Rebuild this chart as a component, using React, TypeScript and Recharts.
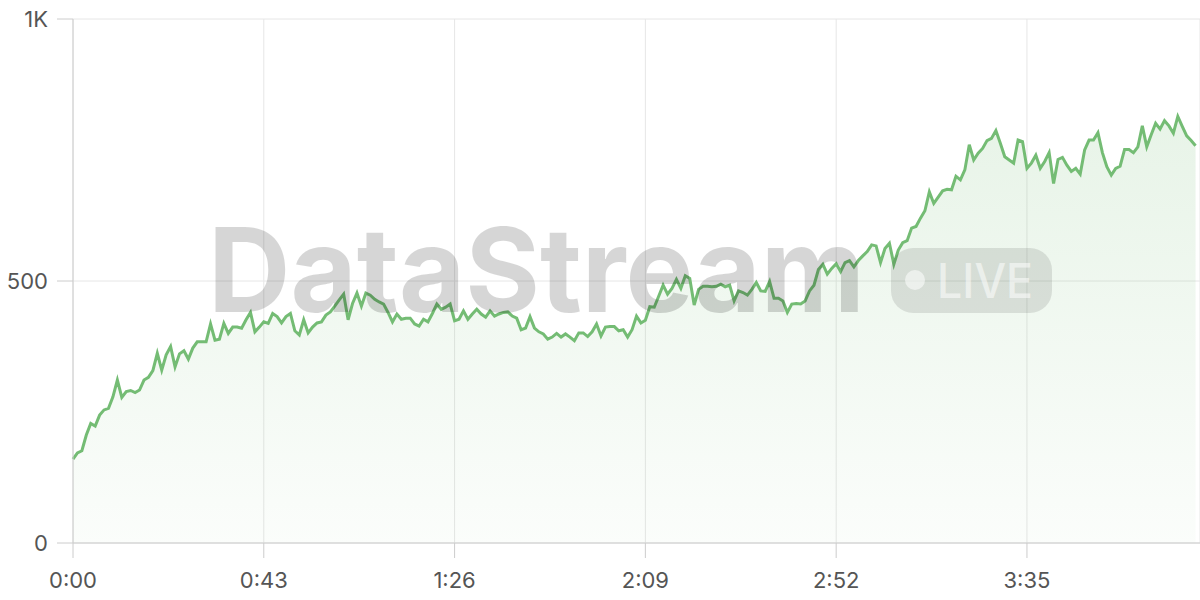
import { AreaChart, Area, XAxis, YAxis, CartesianGrid } from 'recharts'

// one sample per second
const stretch0 = [
  160, 172, 176, 206, 228, 223, 244, 254, 257, 279, 311, 278, 289, 291, 287, 292,
  311, 316, 329, 362, 330, 359, 375, 336, 361, 367, 351, 372, 384, 384, 384, 418,
  387, 389, 419, 400, 412, 412, 410, 426, 440, 403, 412, 422, 419,
]
const stretch1 = [
  438, 432, 420, 432, 438, 405, 397, 426, 401, 412, 420, 422, 435, 441, 452, 464,
  475, 426, 457, 477, 452, 477, 473, 465, 460, 456, 440, 422, 437, 427, 429, 429,
  418, 414, 427, 422, 438, 456, 446, 450, 456, 424, 427,
]
const stretch2 = [
  443, 427, 437, 446, 437, 431, 443, 433, 437, 440, 441, 433, 429, 407, 410, 432,
  410, 403, 399, 389, 393, 400, 393, 399, 393, 386, 401, 401, 394, 403, 418, 395,
  412, 413, 413, 405, 407, 393, 407, 433, 420, 425, 451,
]
const stretch3 = [
  450, 471, 492, 475, 486, 503, 486, 510, 505, 454, 484, 490, 490, 489, 490, 494,
  489, 492, 462, 481, 478, 473, 484, 497, 481, 480, 499, 467, 467, 462, 440, 456,
  457, 456, 462, 481, 492, 522, 532, 513, 524, 533, 518,
]
const stretch4 = [
  535, 539, 527, 539, 548, 556, 569, 567, 535, 562, 572, 532, 559, 573, 577, 601,
  604, 620, 634, 670, 648, 660, 672, 675, 674, 700, 693, 712, 760, 731, 744, 753,
  768, 772, 787, 763, 737, 731, 725, 769, 766, 715,
]
const stretch5 = [
  725, 740, 715, 728, 745, 686, 732, 736, 721, 709, 715, 704, 750, 769, 769, 783,
  745, 718, 702, 715, 719, 751, 751, 745, 756, 796, 756, 779, 801, 790, 806, 796,
  782, 814, 795, 777, 768, 758,
]

const values = [...stretch0, ...stretch1, ...stretch2, ...stretch3, ...stretch4, ...stretch5]
const seconds = values.map((_, i) => i)

const xTicks = [0, 43, 86, 129, 172, 215]
const yTicks = [0, 500, 1000]

const data = values.map((v, i) => ({ t: seconds[i], value: v }))

const GREEN = '#74bc74'
const FONT = 'Inter, "Noto Sans", sans-serif'

function formatClock(s: number): string {
  const m = Math.floor(s / 60)
  const sec = s % 60
  return `${m}:${String(sec).padStart(2, '0')}`
}

function formatCount(v: number): string {
  return v >= 1000 ? `${v / 1000}K` : `${v}`
}

export default function App() {
  return (
    <div style={{ position: 'absolute', left: 0, top: 0, width: 1200, height: 600, background: '#fff' }}>
      <AreaChart
        width={1200}
        height={600}
        data={data}
        margin={{ top: 19, right: 0, left: 0, bottom: 0 }}
      >
        <defs>
          <linearGradient id="liveFill" x1="0" y1="0" x2="0" y2="1">
            <stop offset="0%" stopColor={GREEN} stopOpacity={0.28} />
            <stop offset="100%" stopColor={GREEN} stopOpacity={0.05} />
          </linearGradient>
        </defs>

        <CartesianGrid stroke="#e6e6e6" />

        <XAxis
          dataKey="t"
          type="number"
          domain={[0, 254]}
          ticks={xTicks}
          tickFormatter={formatClock}
          height={57}
          tickSize={15}
          tickMargin={14}
          stroke="#cccccc"
          tick={{ fill: '#555', fontSize: 22, fontFamily: FONT }}
        />
        <YAxis
          domain={[0, 1000]}
          ticks={yTicks}
          tickFormatter={formatCount}
          width={73}
          tickSize={16}
          tickMargin={9}
          stroke="#cccccc"
          tick={{ fill: '#555', fontSize: 22, fontFamily: FONT }}
        />

        <Area
          type="linear"
          dataKey="value"
          stroke={GREEN}
          strokeWidth={3}
          fill="url(#liveFill)"
          dot={false}
          activeDot={false}
          isAnimationActive={false}
        />
      </AreaChart>

      {/* watermark sits above the plot */}
      <svg
        width={1200}
        height={600}
        style={{ position: 'absolute', left: 0, top: 0, pointerEvents: 'none' }}
      >
        <text
          x={208}
          y={312}
          fontFamily={FONT}
          fontWeight={700}
          fontSize={117}
          textLength={657}
          lengthAdjust="spacingAndGlyphs"
          fill="#000"
          fillOpacity={0.16}
        >
          DataStream
        </text>
        <rect x={891} y={248} width={161} height={65} rx={22} fill="#000" fillOpacity={0.1} />
        <circle cx={915} cy={280} r={10} fill="#fff" fillOpacity={0.55} />
        <text
          x={937}
          y={298}
          fontFamily={FONT}
          fontWeight={500}
          fontSize={48}
          textLength={96}
          lengthAdjust="spacingAndGlyphs"
          fill="#fff"
          fillOpacity={0.55}
        >
          LIVE
        </text>
      </svg>
    </div>
  )
}
